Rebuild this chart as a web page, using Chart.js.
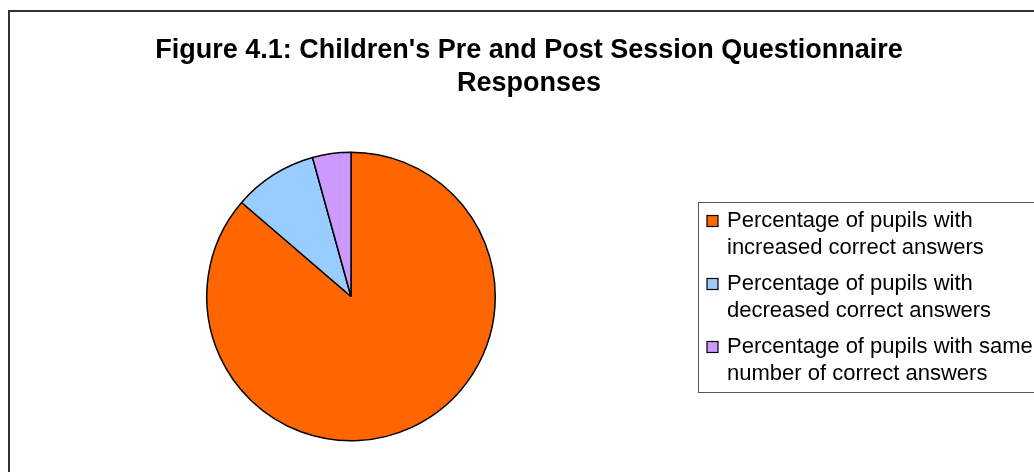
<!DOCTYPE html>
<html>
<head>
<meta charset="utf-8">
<script src="https://cdn.jsdelivr.net/npm/chart.js@4.4.1/dist/chart.umd.min.js"></script>
<style>
  html, body { margin: 0; padding: 0; background: #fff; }
  #wrap { position: relative; width: 1034px; height: 472px; }
</style>
</head>
<body>
<div id="wrap"><canvas id="chart"></canvas></div>
<script>
// data
const titleLines = ["Figure 4.1: Children's Pre and Post Session Questionnaire", "Responses"];
const categories = [
  ["Percentage of pupils with", "increased correct answers"],
  ["Percentage of pupils with", "decreased correct answers"],
  ["Percentage of pupils with same", "number of correct answers"]
];
const values = [86.3, 9.4, 4.3];
const colors = ["#FF6600", "#99CCFF", "#CC99FF"];

const FONT = "Arial, 'Liberation Sans', sans-serif";

// frame, title and legend in the old spreadsheet style
const decor = {
  id: "decor",
  beforeDraw(chart) {
    const ctx = chart.ctx;
    ctx.save();
    ctx.fillStyle = "#fff";
    ctx.fillRect(0, 0, chart.width, chart.height);
    ctx.strokeStyle = "#333";
    ctx.lineWidth = 2;
    ctx.strokeRect(9, 11, chart.width + 20, chart.height + 20);
    ctx.restore();
  },
  afterDraw(chart) {
    const ctx = chart.ctx;
    ctx.save();

    ctx.fillStyle = "#000";
    ctx.textAlign = "center";
    ctx.textBaseline = "alphabetic";
    ctx.font = "bold 27px " + FONT;
    titleLines.forEach((t, i) => ctx.fillText(t, 529, 58 + i * 33));

    // legend box, runs off the right edge like the original
    ctx.strokeStyle = "#555";
    ctx.lineWidth = 1;
    ctx.strokeRect(698.5, 202.5, 400, 190);

    const labels = chart.data.labels;
    const bg = chart.data.datasets[0].backgroundColor;
    ctx.font = "22px " + FONT;
    ctx.textAlign = "left";
    labels.forEach((lines, i) => {
      const base = 227 + i * 63;
      ctx.fillStyle = bg[i];
      ctx.fillRect(707, base - 11.5, 11, 11);
      ctx.strokeStyle = "#000";
      ctx.lineWidth = 1.2;
      ctx.strokeRect(707, base - 11.5, 11, 11);
      ctx.fillStyle = "#000";
      lines.forEach((l, j) => ctx.fillText(l, 727, base + j * 27));
    });
    ctx.restore();
  }
};

new Chart(document.getElementById("chart"), {
  type: "pie",
  data: {
    labels: categories,
    datasets: [{
      data: values,
      backgroundColor: colors,
      borderColor: "#000",
      borderWidth: 1.5
    }]
  },
  options: {
    responsive: true,
    maintainAspectRatio: false,
    animation: false,
    events: [],
    layout: { padding: { left: 206, right: 538, top: 151, bottom: 30 } },
    plugins: {
      legend: { display: false },
      title: { display: false },
      tooltip: { enabled: false }
    }
  },
  plugins: [decor]
});
</script>
</body>
</html>
